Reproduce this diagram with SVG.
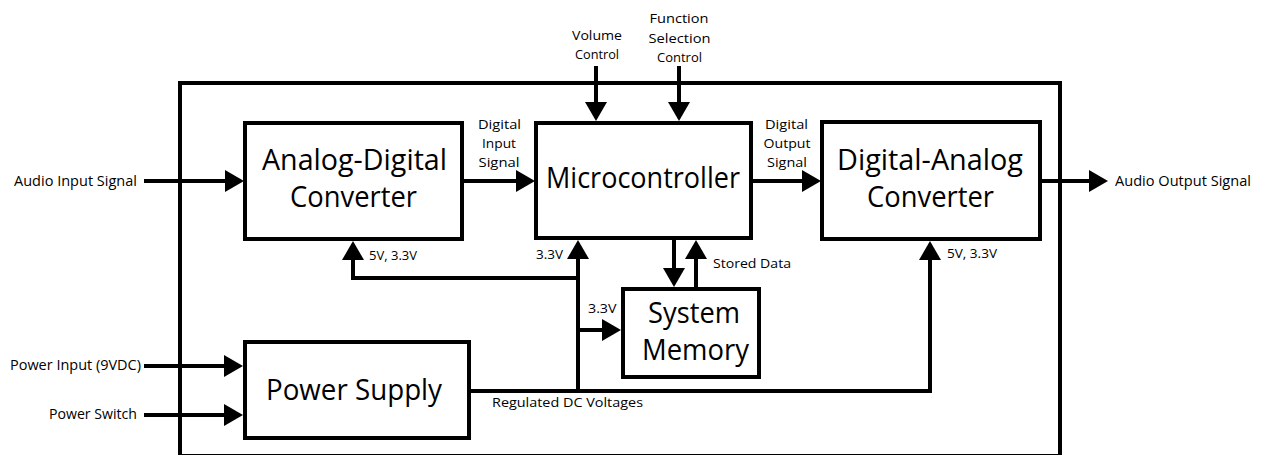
<svg xmlns="http://www.w3.org/2000/svg" width="1261" height="455" viewBox="0 0 1261 455">
<style>
.box{fill:#fff;stroke:#000;stroke-width:4}
.frame{fill:none;stroke:#000;stroke-width:4}
.ln{fill:none;stroke:#000;stroke-width:4;marker-end:url(#arr)}
.ln2{fill:none;stroke:#000;stroke-width:4}
text{font-family:"Open Sans","Noto Sans","Liberation Sans",sans-serif;fill:#000}
.big{font-size:29px}
.sm{font-size:14.5px}
.xs{font-size:13px}
</style>
<defs>
<marker id="arr" viewBox="0 0 19 22" markerWidth="19" markerHeight="22" refX="0" refY="11" markerUnits="userSpaceOnUse" orient="auto">
<path d="M0,0 L19,11 L0,22 Z" fill="#000"/>
</marker>
</defs>
<rect width="1261" height="455" fill="#fff"/>
<rect id="frame" class="frame" x="180" y="83" width="880" height="373"/>
<g id="connectors">
<path class="ln" d="M144,181 H225"/>
<path class="ln" d="M462,181 H516"/>
<path class="ln" d="M751,181 H802"/>
<path class="ln" d="M1040,181 H1089"/>
<path class="ln" d="M596,66 V102"/>
<path class="ln" d="M679,66 V102"/>
<path class="ln" d="M144,366 H224"/>
<path class="ln" d="M144,415 H224"/>
<path class="ln" d="M469,391 H930 V260"/>
<path class="ln" d="M578,391 V259"/>
<path class="ln" d="M578,278 H353 V260"/>
<path class="ln" d="M578,330 H602"/>
<path class="ln" d="M674,240 V268"/>
<path class="ln" d="M696,287 V259"/>
</g>
<g id="adc">
<rect class="box" x="245" y="123" width="217" height="116"/>
<text class="big" x="262" y="170" textLength="185" lengthAdjust="spacingAndGlyphs">Analog-Digital</text>
<text class="big" x="290" y="207" textLength="127" lengthAdjust="spacingAndGlyphs">Converter</text>
</g>
<g id="mcu">
<rect class="box" x="536" y="123" width="215" height="115"/>
<text class="big" x="546" y="188" textLength="194" lengthAdjust="spacingAndGlyphs">Microcontroller</text>
</g>
<g id="dac">
<rect class="box" x="822" y="122" width="218" height="117"/>
<text class="big" x="837" y="170" textLength="186" lengthAdjust="spacingAndGlyphs">Digital-Analog</text>
<text class="big" x="867" y="207" textLength="127" lengthAdjust="spacingAndGlyphs">Converter</text>
</g>
<g id="memory">
<rect class="box" x="623" y="289" width="136" height="88"/>
<text class="big" x="648" y="323" textLength="92" lengthAdjust="spacingAndGlyphs">System</text>
<text class="big" x="642" y="360" textLength="107" lengthAdjust="spacingAndGlyphs">Memory</text>
</g>
<g id="psu">
<rect class="box" x="245" y="342" width="224" height="96"/>
<text class="big" x="266" y="400" textLength="176" lengthAdjust="spacingAndGlyphs">Power Supply</text>
</g>
<g id="labels">
<text class="sm" x="14" y="186" textLength="123" lengthAdjust="spacingAndGlyphs">Audio Input Signal</text>
<text class="sm" x="1115" y="186" textLength="136" lengthAdjust="spacingAndGlyphs">Audio Output Signal</text>
<text class="sm" x="10" y="370" textLength="131" lengthAdjust="spacingAndGlyphs">Power Input (9VDC)</text>
<text class="sm" x="49" y="419" textLength="88" lengthAdjust="spacingAndGlyphs">Power Switch</text>
<text class="xs" x="478" y="128.5" textLength="43" lengthAdjust="spacingAndGlyphs">Digital</text>
<text class="xs" x="482" y="147.5" textLength="34" lengthAdjust="spacingAndGlyphs">Input</text>
<text class="xs" x="478.5" y="166.5" textLength="41" lengthAdjust="spacingAndGlyphs">Signal</text>
<text class="xs" x="765" y="129" textLength="43" lengthAdjust="spacingAndGlyphs">Digital</text>
<text class="xs" x="763.5" y="148" textLength="47" lengthAdjust="spacingAndGlyphs">Output</text>
<text class="xs" x="767" y="167" textLength="40" lengthAdjust="spacingAndGlyphs">Signal</text>
<text class="xs" x="572" y="39.5" textLength="50" lengthAdjust="spacingAndGlyphs">Volume</text>
<text class="xs" x="575" y="58.5" textLength="44" lengthAdjust="spacingAndGlyphs">Control</text>
<text class="xs" x="649.5" y="23" textLength="59" lengthAdjust="spacingAndGlyphs">Function</text>
<text class="xs" x="648.5" y="42.5" textLength="62" lengthAdjust="spacingAndGlyphs">Selection</text>
<text class="xs" x="657" y="62" textLength="45" lengthAdjust="spacingAndGlyphs">Control</text>
<text class="xs" x="369" y="260" textLength="48" lengthAdjust="spacingAndGlyphs">5V, 3.3V</text>
<text class="xs" x="536" y="259" textLength="27" lengthAdjust="spacingAndGlyphs">3.3V</text>
<text class="xs" x="713" y="268" textLength="78" lengthAdjust="spacingAndGlyphs">Stored Data</text>
<text class="xs" x="588" y="313" textLength="28.5" lengthAdjust="spacingAndGlyphs">3.3V</text>
<text class="xs" x="947" y="258" textLength="50" lengthAdjust="spacingAndGlyphs">5V, 3.3V</text>
<text class="xs" x="492" y="407" textLength="151" lengthAdjust="spacingAndGlyphs">Regulated DC Voltages</text>
</g>
</svg>
